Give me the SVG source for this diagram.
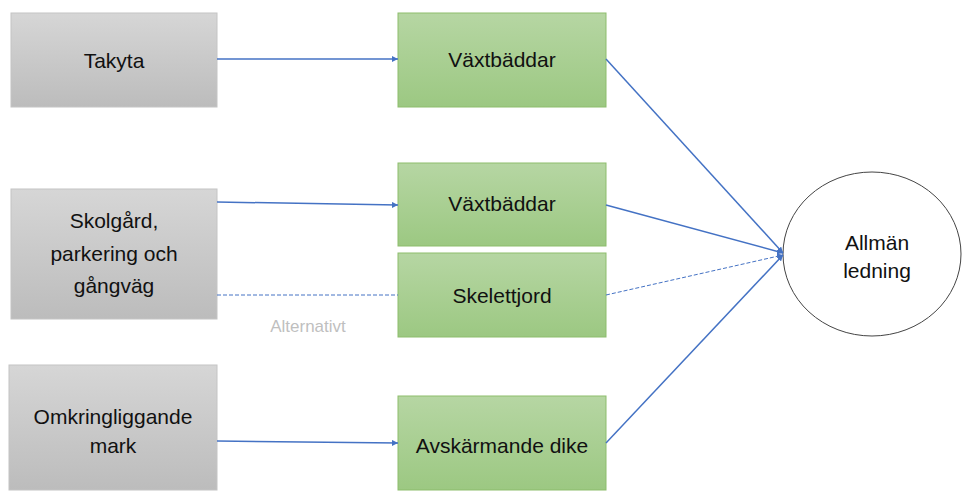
<svg xmlns="http://www.w3.org/2000/svg" width="962" height="491" viewBox="0 0 962 491">
<defs>
<linearGradient id="gGray" x1="0" y1="0" x2="0" y2="1">
<stop offset="0" stop-color="#d6d6d6"/>
<stop offset="1" stop-color="#bcbcbc"/>
</linearGradient>
<linearGradient id="gGreen" x1="0" y1="0" x2="0" y2="1">
<stop offset="0" stop-color="#b6d6a3"/>
<stop offset="1" stop-color="#9cc882"/>
</linearGradient>
<marker id="arr" viewBox="0 0 10 10" refX="10" refY="5" markerWidth="6" markerHeight="6" markerUnits="userSpaceOnUse" orient="auto">
<path d="M0,0 L10,5 L0,10 z" fill="#4472c4"/>
</marker>
</defs>
<style>
.gray{fill:url(#gGray);stroke:#c4c4c4;stroke-width:1}
.green{fill:url(#gGreen);stroke:#8dbd6c;stroke-width:1}
.t{font-family:"Liberation Sans",Arial,sans-serif;font-size:21px;fill:#111;text-anchor:middle}
.c{fill:none;stroke:#4472c4;stroke-width:1.5}
.d{fill:none;stroke:#4472c4;stroke-width:1;stroke-dasharray:4 2}
</style>
<rect width="962" height="491" fill="#fff"/>
<g id="takyta"><rect class="gray" x="11" y="13" width="206" height="94"/><text class="t" x="114" y="68">Takyta</text></g>
<g id="skolgard"><rect class="gray" x="11" y="189" width="206" height="130"/><text class="t" x="114" y="228">Skolgård,</text><text class="t" x="114" y="261">parkering och</text><text class="t" x="114" y="293">gångväg</text></g>
<g id="omkring"><rect class="gray" x="9" y="365" width="208" height="125"/><text class="t" x="113" y="424">Omkringliggande</text><text class="t" x="113" y="453">mark</text></g>
<g id="vaxt1"><rect class="green" x="398" y="13" width="208" height="94"/><text class="t" x="502" y="67">Växtbäddar</text></g>
<g id="vaxt2"><rect class="green" x="398" y="163" width="208" height="83"/><text class="t" x="502" y="211">Växtbäddar</text></g>
<g id="skelett"><rect class="green" x="398" y="253" width="208" height="84"/><text class="t" x="502" y="303">Skelettjord</text></g>
<g id="dike"><rect class="green" x="398" y="396" width="208" height="94"/><text class="t" x="502" y="453">Avskärmande dike</text></g>
<g id="allman"><ellipse cx="872" cy="254" rx="89" ry="82" fill="#fff" stroke="#444" stroke-width="1"/><text class="t" x="877" y="250">Allmän</text><text class="t" x="877" y="278">ledning</text></g>
<g id="connectors">
<line class="c" x1="217" y1="59" x2="398" y2="59" marker-end="url(#arr)"/>
<line class="c" x1="217" y1="202" x2="398" y2="205" marker-end="url(#arr)"/>
<line class="d" x1="217" y1="295" x2="398" y2="295"/>
<line class="c" x1="217" y1="441" x2="398" y2="443" marker-end="url(#arr)"/>
<line class="c" x1="606" y1="59" x2="783" y2="253" marker-end="url(#arr)"/>
<line class="c" x1="606" y1="205" x2="783" y2="253" marker-end="url(#arr)"/>
<line class="d" x1="606" y1="295" x2="783" y2="255" marker-end="url(#arr)"/>
<line class="c" x1="606" y1="443" x2="783" y2="255" marker-end="url(#arr)"/>
</g>
<text x="308" y="332" font-family="'Liberation Sans',Arial,sans-serif" font-size="17" fill="#bfbfbf" text-anchor="middle">Alternativt</text>
</svg>
